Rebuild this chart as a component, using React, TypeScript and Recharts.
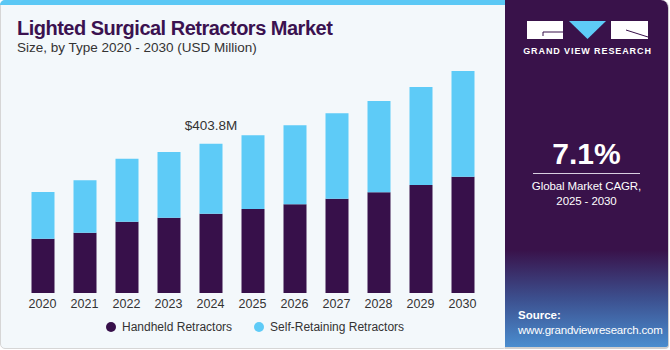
import { Bar, BarChart, LabelList, XAxis, YAxis } from 'recharts';

const years = ['2020', '2021', '2022', '2023', '2024', '2025', '2026', '2027', '2028', '2029', '2030'];
const handheld = [146.9, 163.1, 192.9, 203.7, 214.5, 227.2, 239.9, 255.1, 272.4, 292.1, 314.6];
const selfRetaining = [126.3, 141.7, 170.4, 177.7, 189.3, 199.4, 213.7, 231.0, 247.0, 265.1, 285.9];
const callouts = ['', '', '', '', '$403.8M', '', '', '', '', '', ''];

const data = years.map((year, i) => ({
  year,
  handheld: handheld[i],
  selfRetaining: selfRetaining[i],
  callout: callouts[i],
}));

const DARK = '#37104a';
const LIGHT = '#5ecbf7';
const FONT = "'Liberation Sans', Arial, sans-serif";

const Logo = () => (
  <svg width={130} height={40} style={{ position: 'absolute', left: 522, top: 18 }}>
    <rect x={5} y={3} width={36} height={18} fill='#fff' />
    <path d='M21 14 H41 M21 14 V18' stroke={DARK} strokeWidth={1} fill='none' />
    <polygon points='47,3 84,3 65.5,21' fill={LIGHT} />
    <rect x={89} y={3} width={37} height={18} fill='#fff' />
    <path d='M104 12 L126 19' stroke={DARK} strokeWidth={1} />
    <text x={65.5} y={36} textAnchor='middle' fill='#fff' fontSize={9} fontWeight={700} letterSpacing={0.9} fontFamily={FONT}>
      GRAND VIEW RESEARCH
    </text>
  </svg>
);

export default function App() {
  return (
    <div style={{ position: 'absolute', left: 0, top: 0, width: 670, height: 350, fontFamily: FONT, overflow: 'hidden', background: '#fff' }}>
      {/* left panel */}
      <div style={{ position: 'absolute', left: 0, top: 0, width: 506, height: 347, background: '#f3f8fb', border: '1px solid #d6d6d6', borderRadius: 5 }} />
      <div style={{ position: 'absolute', left: 0, top: 0, width: 506, height: 5, background: '#5bc8f5', borderTopLeftRadius: 5 }} />

      {/* right panel */}
      <div
        style={{
          position: 'absolute',
          left: 505,
          top: 0,
          width: 163,
          height: 347,
          borderTopRightRadius: 8,
          borderBottomRightRadius: 4,
          background: 'linear-gradient(to bottom, #39124a 0%, #39124a 72%, #3c4f8e 86%, #4a8dcf 100%)',
          borderBottom: '2px solid #cfcfcf',
          borderRight: '1px solid #cfcfcf',
        }}
      />
      <Logo />

      <div style={{ position: 'absolute', left: 505, top: 137, width: 163, textAlign: 'center', color: '#fff', fontSize: 30, fontWeight: 700, lineHeight: '34px' }}>
        7.1%
      </div>
      <div style={{ position: 'absolute', left: 533, top: 173, width: 107, height: 1, background: '#d8cfe0' }} />
      <div style={{ position: 'absolute', left: 505, top: 179, width: 163, textAlign: 'center', color: '#fff', fontSize: 11.5, lineHeight: '15px', letterSpacing: -0.1 }}>
        Global Market CAGR,
        <br />
        2025 - 2030
      </div>
      <div style={{ position: 'absolute', left: 518, top: 308, color: '#fff', fontSize: 11.5, lineHeight: '15px', whiteSpace: 'nowrap' }}>
        <div style={{ fontWeight: 700 }}>Source:</div>
        <div style={{ letterSpacing: -0.2 }}>www.grandviewresearch.com</div>
      </div>

      {/* titles */}
      <div style={{ position: 'absolute', left: 17, top: 17, color: '#3b1250', fontSize: 20, fontWeight: 700, lineHeight: '22px', whiteSpace: 'nowrap', letterSpacing: -0.5 }}>
        Lighted Surgical Retractors Market
      </div>
      <div style={{ position: 'absolute', left: 17, top: 40, color: '#333', fontSize: 13.5, lineHeight: '16px', whiteSpace: 'nowrap' }}>
        Size, by Type 2020 - 2030 (USD Million)
      </div>

      <div style={{ position: 'absolute', left: 0, top: 0 }}>
        <BarChart width={505} height={320} data={data} margin={{ top: 52.7, right: 21.5, left: 21.5, bottom: 0 }} barSize={23}>
          <XAxis
            dataKey='year'
            axisLine={false}
            tickLine={false}
            tickMargin={0}
            height={27}
            interval={0}
            tick={{ fill: '#333', fontSize: 12.5, fontFamily: FONT }}
          />
          <YAxis hide domain={[0, 650]} />
          <Bar dataKey='handheld' stackId='a' fill={DARK} isAnimationActive={false} />
          <Bar dataKey='selfRetaining' stackId='a' fill={LIGHT} isAnimationActive={false}>
            <LabelList dataKey='callout' position='top' offset={14} fill='#333' fontSize={13.5} fontFamily={FONT} />
          </Bar>
        </BarChart>
      </div>

      {/* legend */}
      <div style={{ position: 'absolute', left: 106, top: 320, display: 'flex', alignItems: 'center', fontSize: 12, color: '#333', whiteSpace: 'nowrap' }}>
        <span style={{ width: 10, height: 10, borderRadius: 5, background: DARK, display: 'inline-block', marginRight: 6 }} />
        <span style={{ marginRight: 22 }}>Handheld Retractors</span>
        <span style={{ width: 10, height: 10, borderRadius: 5, background: LIGHT, display: 'inline-block', marginRight: 6 }} />
        <span>Self-Retaining Retractors</span>
      </div>
    </div>
  );
}
